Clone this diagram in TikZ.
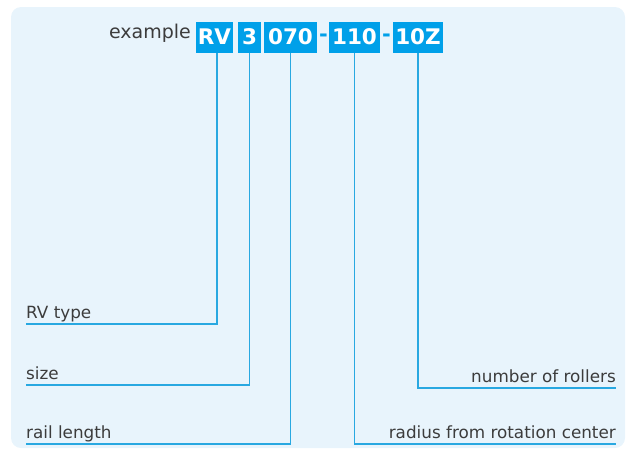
\documentclass[tikz,border=0pt]{standalone}
\usepackage{fontspec}
\setmainfont{DejaVu Sans}
\usetikzlibrary{positioning}
\definecolor{rvblue}{RGB}{0,160,233}
\definecolor{rvline}{RGB}{40,168,225}
\definecolor{rvbg}{RGB}{232,244,252}
\definecolor{rvtext}{RGB}{60,60,60}
\tikzstyle{code} = [rectangle, fill=rvblue, text=white, font=\fontsize{21.5}{21.5}\selectfont\bfseries, minimum height=31pt, inner sep=0pt]
\tikzstyle{sep} = [inner sep=0pt, text=rvblue, font=\fontsize{21}{21}\selectfont\bfseries]
\tikzstyle{desc} = [inner sep=0pt, text depth=5pt, text=rvtext, font=\fontsize{16.8}{16.8}\selectfont]
\tikzstyle{leader} = [draw=rvline, line width=1.6pt]

\begin{document}
\begin{tikzpicture}[x=1pt,y=-1pt]
\useasboundingbox (0,0) rectangle (626,456);
% background panel
\fill[rvbg, rounded corners=10pt] (11,7) rectangle (625,448);

% part number
\node[anchor=base east, inner sep=0pt, text=rvtext, font=\fontsize{19}{19}\selectfont] (ex) at (191,38) {example};
\node[code, minimum width=37pt] (rv) at (214.5,37) {RV};
\node[code, minimum width=23pt] (b3) at (249.5,37) {3};
\node[code, minimum width=53pt] (b070) at (290.5,37) {070};
\node[sep] (d1) at (323.5,38) {-};
\node[code, minimum width=51pt] (b110) at (354.5,37) {110};
\node[sep] (d2) at (386.5,38) {-};
\node[code, minimum width=50pt] (b10z) at (418,37) {10Z};

% descriptions
\node[desc, anchor=south west] (ltype) at (26,324) {RV type};
\node[desc, anchor=south west] (lsize) at (26,385) {size};
\node[desc, anchor=south west] (lrail) at (26,444) {rail length};
\node[desc, anchor=south east] (lrol) at (616,388) {number of rollers};
\node[desc, anchor=south east] (lrad) at (616,444) {radius from rotation center};

\draw[leader] ([xshift=2.5pt]rv.south) |- (ltype.south west);
\draw[leader] (b3.south) |- (lsize.south west);
\draw[leader] (b070.south) |- (lrail.south west);
\draw[leader] (b110.south) |- (lrad.south east);
\draw[leader] (b10z.south) |- (lrol.south east);
\end{tikzpicture}
\end{document}
